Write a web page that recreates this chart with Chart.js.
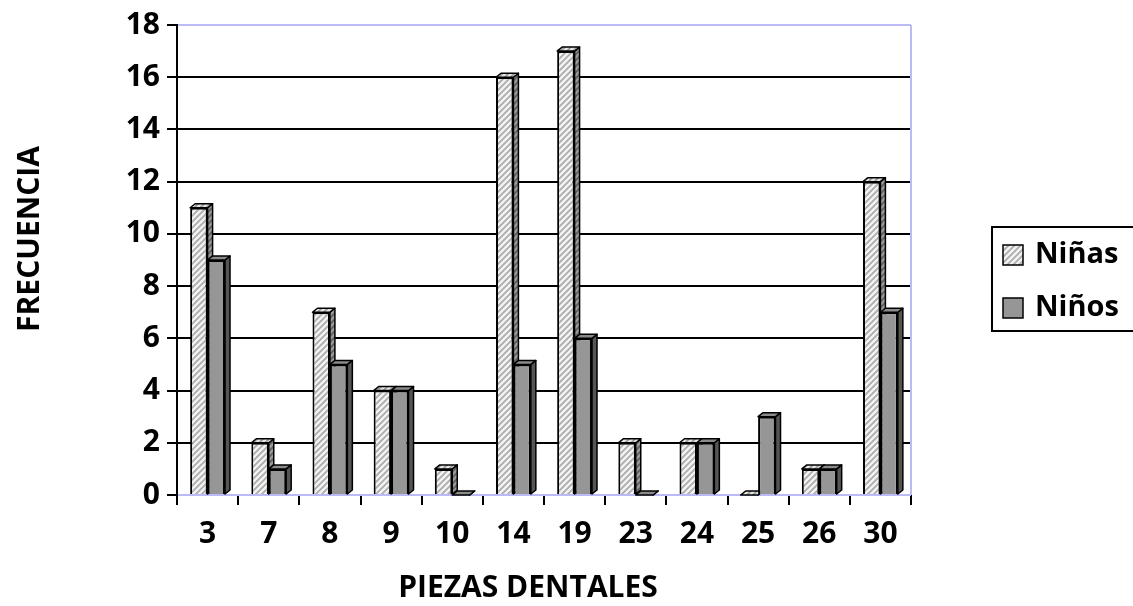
<!DOCTYPE html>
<html><head><meta charset="utf-8">
<script src="https://cdn.jsdelivr.net/npm/chart.js@4/dist/chart.umd.min.js"></script>
<style>html,body{margin:0;padding:0;background:#fff}#wrap{width:1133px;height:606px}</style>
</head><body><div id="wrap"><canvas id="c" width="1133" height="606"></canvas></div>
<script>
const categories = ['3','7','8','9','10','14','19','23','24','25','26','30'];
const ninas = [11,2,7,4,1,16,17,2,2,0,1,12];
const ninos = [9,1,5,4,0,5,6,0,2,3,1,7];
const yTickValues = [0,2,4,6,8,10,12,14,16,18];
const seriesNames = ['Niñas','Niños'];
const xTitle = 'PIEZAS DENTALES';
const yTitle = 'FRECUENCIA';

const FONT = '"Open Sans"';
const WEIGHT = 'bold';
const ctx0 = document.getElementById('c').getContext('2d');
function hatch(bg, fg){
  const c = document.createElement('canvas'); c.width = 6; c.height = 6;
  const g = c.getContext('2d');
  g.fillStyle = bg; g.fillRect(0,0,6,6);
  g.strokeStyle = fg; g.lineWidth = 1.7;
  g.beginPath();
  g.moveTo(-1,7); g.lineTo(7,-1);
  g.moveTo(-4,4); g.lineTo(4,-4);
  g.moveTo(2,10); g.lineTo(10,2);
  g.stroke();
  return ctx0.createPattern(c,'repeat');
}
const ninasFront = hatch('#f2f2f2','#ababab');
const ninasTop = hatch('#e6e6e6','#9a9a9a');
const ninasSide = hatch('#9a9a9a','#5e5e5e');
const LAV = '#babaf6';

const bar3d = {
  id:'bar3d',
  beforeDatasetsDraw(chart){
    const ctx = chart.ctx, a = chart.chartArea;
    ctx.save();
    ctx.strokeStyle = LAV; ctx.lineWidth = 2;
    ctx.beginPath(); ctx.moveTo(a.right, a.top); ctx.lineTo(a.right, a.bottom); ctx.stroke();
    ctx.restore();
    const dx = 5, dy = 4;
    chart.data.datasets.forEach((ds,i)=>{
      const meta = chart.getDatasetMeta(i);
      meta.data.forEach(el=>{
        const p = el.getProps(['x','y','base','width'], true);
        const l = p.x - p.width/2, r = p.x + p.width/2, y = p.y, base = p.base;
        ctx.save();
        ctx.lineWidth = 1.5; ctx.strokeStyle = '#000'; ctx.lineJoin = 'round';
        ctx.beginPath(); ctx.moveTo(r,y); ctx.lineTo(r+dx,y-dy); ctx.lineTo(r+dx,base-dy); ctx.lineTo(r,base); ctx.closePath();
        ctx.fillStyle = ds.sideColor; ctx.fill(); ctx.stroke();
        ctx.beginPath(); ctx.moveTo(l,y); ctx.lineTo(l+dx,y-dy); ctx.lineTo(r+dx,y-dy); ctx.lineTo(r,y); ctx.closePath();
        ctx.fillStyle = ds.topColor; ctx.fill(); ctx.stroke();
        ctx.restore();
      });
    });
  },
  afterDraw(chart){
    const ctx = chart.ctx;
    ctx.save();
    ctx.fillStyle = '#000';
    ctx.font = WEIGHT + ' 30px ' + FONT;
    ctx.textAlign = 'center'; ctx.textBaseline = 'middle';
    ctx.fillText(xTitle, 528, 588);
    ctx.save();
    ctx.translate(30, 239); ctx.rotate(-Math.PI/2);
    ctx.fillText(yTitle, 0, 0);
    ctx.restore();
    // legend
    ctx.font = WEIGHT + ' 29px ' + FONT;
    ctx.lineWidth = 2; ctx.strokeStyle = '#000';
    ctx.strokeRect(992, 227, 160, 104);
    const rows = [255, 308];
    chart.data.datasets.forEach((ds,i)=>{
      const cy = rows[i];
      ctx.fillStyle = ds.backgroundColor;
      ctx.fillRect(1003, cy-10, 20, 20);
      ctx.lineWidth = 1.5; ctx.strokeRect(1003, cy-10, 20, 20);
      ctx.fillStyle = '#000'; ctx.textAlign = 'left'; ctx.textBaseline = 'middle';
      ctx.fillText(ds.label, 1035, cy);
    });
    ctx.restore();
  }
};

new Chart(ctx0, {
  type:'bar',
  data:{
    labels: categories,
    datasets:[
      {label: seriesNames[0], data: ninas, backgroundColor: ninasFront, topColor: ninasTop, sideColor: ninasSide, borderColor:'#000', borderWidth:2},
      {label: seriesNames[1], data: ninos, backgroundColor: '#969696', topColor: '#8a8a8a', sideColor: '#555555', borderColor:'#000', borderWidth:2}
    ]
  },
  plugins:[bar3d],
  options:{
    responsive:false, animation:false, devicePixelRatio:1,
    layout:{padding:{top:19, right:222, left:0, bottom:0}},
    plugins:{legend:{display:false}, tooltip:{enabled:false}},
    datasets:{bar:{categoryPercentage:0.57, barPercentage:1}},
    scales:{
      x:{
        grid:{display:true, drawOnChartArea:false, drawTicks:true, tickLength:10, color:'#000', lineWidth:2},
        border:{display:false},
        ticks:{font:{family:FONT, size:30, weight:WEIGHT}, color:'#000', padding:11},
        afterFit(s){ s.height = 111; }
      },
      y:{
        min:0, max:18,
        afterBuildTicks(s){ s.ticks = yTickValues.map(v=>({value:v})); },
        ticks:{font:{family:FONT, size:30, weight:WEIGHT}, color:'#000', padding:7},
        grid:{color:c=> (c.tick && (c.tick.value===0 || c.tick.value===18)) ? LAV : '#000', lineWidth:2, tickColor:'#000', tickLength:10},
        border:{display:true, color:'#000', width:2},
        afterFit(s){ s.width = 177; }
      }
    }
  }
});
</script></body></html>
